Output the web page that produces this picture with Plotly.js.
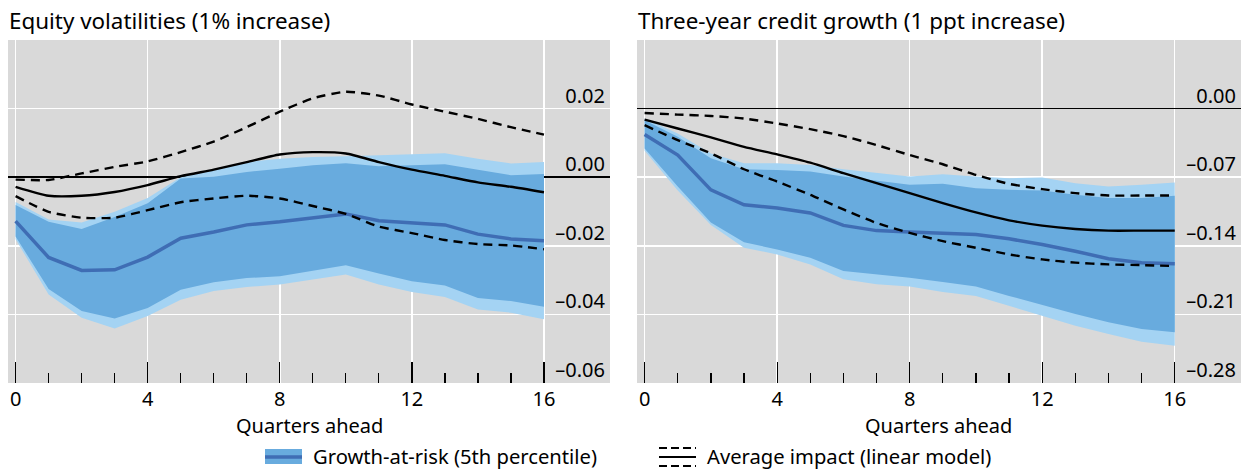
<!DOCTYPE html>
<html>
<head>
<meta charset="utf-8">
<script src="https://cdn.plot.ly/plotly-3.0.1.min.js"></script>
<style>
  html, body { margin: 0; padding: 0; background: #fff; }
  #chart { width: 1243px; height: 471px; }
</style>
</head>
<body>
<div id="chart"></div>
<script>
// ---------- data ----------
const quarters = [0,1,2,3,4,5,6,7,8,9,10,11,12,13,14,15,16];

// Left panel: Equity volatilities (1% increase)
const eqOuterHi = [-0.0072,-0.0123,-0.0132,-0.0101,-0.0061,0.0000,0.0020,0.0044,0.0054,0.0059,0.0061,0.0064,0.0067,0.0070,0.0054,0.0040,0.0044];
const eqInnerHi = [-0.0081,-0.0130,-0.0151,-0.0116,-0.0076,-0.0004,0.0001,0.0015,0.0025,0.0035,0.0041,0.0032,0.0035,0.0038,0.0022,0.0006,0.0009];
const eqMedian  = [-0.0128,-0.0234,-0.0272,-0.0270,-0.0233,-0.0178,-0.0160,-0.0139,-0.0130,-0.0119,-0.0107,-0.0127,-0.0134,-0.0139,-0.0166,-0.0180,-0.0185];
const eqInnerLo = [-0.0173,-0.0326,-0.0390,-0.0412,-0.0381,-0.0328,-0.0306,-0.0294,-0.0289,-0.0273,-0.0257,-0.0281,-0.0303,-0.0316,-0.0352,-0.0361,-0.0378];
const eqOuterLo = [-0.0181,-0.0342,-0.0410,-0.0441,-0.0405,-0.0357,-0.0332,-0.0320,-0.0313,-0.0299,-0.0284,-0.0313,-0.0335,-0.0349,-0.0386,-0.0395,-0.0414];
const eqAvg     = [-0.0028,-0.0054,-0.0054,-0.0043,-0.0023,0.0003,0.0022,0.0044,0.0066,0.0073,0.0069,0.0044,0.0022,0.0004,-0.0015,-0.0028,-0.0044];
const eqAvgHi   = [-0.0007,-0.0008,0.0011,0.0030,0.0046,0.0073,0.0104,0.0146,0.0191,0.0230,0.0249,0.0238,0.0212,0.0191,0.0170,0.0146,0.0124];
const eqAvgLo   = [-0.0055,-0.0101,-0.0118,-0.0118,-0.0096,-0.0073,-0.0062,-0.0054,-0.0062,-0.0084,-0.0107,-0.0144,-0.0163,-0.0183,-0.0195,-0.0199,-0.0210];

// Right panel: Three-year credit growth (1 ppt increase)
const crOuterHi = [-0.0101,-0.0254,-0.0457,-0.0558,-0.0558,-0.0575,-0.0619,-0.0659,-0.0694,-0.0670,-0.0694,-0.0710,-0.0704,-0.0761,-0.0795,-0.0778,-0.0755];
const crInnerHi = [-0.0119,-0.0288,-0.0507,-0.0619,-0.0626,-0.0643,-0.0694,-0.0734,-0.0778,-0.0768,-0.0812,-0.0829,-0.0836,-0.0880,-0.0913,-0.0913,-0.0890];
const crMedian  = [-0.0264,-0.0474,-0.0829,-0.0981,-0.1015,-0.1065,-0.1192,-0.1245,-0.1258,-0.1268,-0.1285,-0.1329,-0.1387,-0.1455,-0.1532,-0.1573,-0.1583];
const crInnerLo = [-0.0406,-0.0795,-0.1161,-0.1363,-0.1438,-0.1522,-0.1658,-0.1691,-0.1725,-0.1769,-0.1816,-0.1911,-0.2006,-0.2097,-0.2181,-0.2249,-0.2283];
const crOuterLo = [-0.0430,-0.0836,-0.1189,-0.1420,-0.1488,-0.1590,-0.1742,-0.1793,-0.1816,-0.1871,-0.1911,-0.2013,-0.2120,-0.2216,-0.2300,-0.2378,-0.2419];
const crAvg     = [-0.0112,-0.0203,-0.0294,-0.0390,-0.0467,-0.0552,-0.0659,-0.0761,-0.0862,-0.0964,-0.1059,-0.1140,-0.1194,-0.1228,-0.1245,-0.1245,-0.1245];
const crAvgHi   = [-0.0045,-0.0061,-0.0075,-0.0101,-0.0152,-0.0210,-0.0281,-0.0372,-0.0474,-0.0568,-0.0677,-0.0768,-0.0822,-0.0862,-0.0887,-0.0887,-0.0887];
const crAvgLo   = [-0.0169,-0.0322,-0.0457,-0.0619,-0.0745,-0.0880,-0.1029,-0.1167,-0.1268,-0.1353,-0.1420,-0.1488,-0.1539,-0.1572,-0.1590,-0.1597,-0.1607];

// Tick labels
const xMajorTicks = [0,4,8,12,16];
const xMinorTicks = [1,2,3,5,6,7,9,10,11,13,14,15];
const eqYTicks = [-0.06,-0.04,-0.02,0,0.02];
const eqYText  = ['\u20130.06','\u20130.04','\u20130.02','0.00','0.02'];
const crYTicks = [-0.28,-0.21,-0.14,-0.07,0];
const crYText  = ['\u20130.28','\u20130.21','\u20130.14','\u20130.07','0.00'];

const panelTitles = ['Equity volatilities (1% increase)', 'Three-year credit growth (1 ppt increase)'];
const xTitle = 'Quarters ahead';
const legendLabels = ['Growth-at-risk (5th percentile)', 'Average impact (linear model)'];

// ---------- styles ----------
const LIGHT = '#A4D3F3';
const MID = '#68ABDE';
const DARK = '#3F6DB4';
const FONT = 'Noto Sans, Open Sans, sans-serif';
const DASH = '9px,6px';
const TXT = 20;

function panelTraces(xa, ya, oh, ih, med, il, ol, avg, ahi, alo) {
  const base = {x: quarters, xaxis: xa, yaxis: ya, showlegend: false, hoverinfo: 'skip'};
  return [
    Object.assign({}, base, {y: ol, mode: 'lines', line: {width: 0, color: LIGHT}}),
    Object.assign({}, base, {y: oh, mode: 'lines', line: {width: 0, color: LIGHT}, fill: 'tonexty', fillcolor: LIGHT}),
    Object.assign({}, base, {y: il, mode: 'lines', line: {width: 0, color: MID}}),
    Object.assign({}, base, {y: ih, mode: 'lines', line: {width: 0, color: MID}, fill: 'tonexty', fillcolor: MID}),
    Object.assign({}, base, {y: med, mode: 'lines', line: {width: 3.5, color: DARK}}),
    Object.assign({}, base, {y: avg, mode: 'lines', line: {width: 2.4, color: '#000', shape: 'spline', smoothing: 0.6}}),
    Object.assign({}, base, {y: ahi, mode: 'lines', line: {width: 2.4, color: '#000', dash: DASH, shape: 'spline', smoothing: 0.6}}),
    Object.assign({}, base, {y: alo, mode: 'lines', line: {width: 2.4, color: '#000', dash: DASH, shape: 'spline', smoothing: 0.6}})
  ];
}

const data = [].concat(
  panelTraces('x', 'y', eqOuterHi, eqInnerHi, eqMedian, eqInnerLo, eqOuterLo, eqAvg, eqAvgHi, eqAvgLo),
  panelTraces('x2', 'y2', crOuterHi, crInnerHi, crMedian, crInnerLo, crOuterLo, crAvg, crAvgHi, crAvgLo)
);

const W = 1243, PT = 40, PB = 383, PH = PB - PT;
const px = v => v / W;
const py = v => (PB - v) / PH;

function xAxis(domain, anchor) {
  return {
    domain: domain, anchor: anchor,
    range: [-0.23, 18.0],
    tickmode: 'array', tickvals: xMajorTicks,
    ticks: 'inside', ticklen: 21, tickwidth: 1.3, tickcolor: '#000',
    minor: {tickmode: 'array', tickvals: xMinorTicks, ticks: 'inside', ticklen: 10, tickwidth: 1.3, tickcolor: '#000', showgrid: false},
    showgrid: true, gridcolor: '#fff', gridwidth: 1.5,
    zeroline: false, showline: false,
    ticklabelstandoff: 2,
    tickfont: {family: FONT, size: TXT, color: '#000'},
    fixedrange: true
  };
}
function yAxis(anchor, range, vals, text) {
  return {
    anchor: anchor, side: 'right', range: range,
    tickmode: 'array', tickvals: vals, ticktext: text,
    ticklabelposition: 'inside', ticklabeloverflow: 'allow', ticklabelshift: -13, ticklabelstandoff: 2,
    ticks: '',
    showgrid: true, gridcolor: '#fff', gridwidth: 1.5,
    zeroline: true, zerolinecolor: '#000', zerolinewidth: 1.6,
    showline: false,
    tickfont: {family: FONT, size: TXT, color: '#000'},
    fixedrange: true
  };
}

const legendShapes = [
  {type: 'rect', xref: 'paper', yref: 'paper', x0: px(265), x1: px(302), y0: py(449), y1: py(464), fillcolor: MID, line: {width: 0}},
  {type: 'line', xref: 'paper', yref: 'paper', x0: px(265), x1: px(302), y0: py(457), y1: py(457), line: {color: DARK, width: 3.5}},
  {type: 'line', xref: 'paper', yref: 'paper', x0: px(659), x1: px(696), y0: py(448), y1: py(448), line: {color: '#000', width: 2, dash: '8px,4px'}},
  {type: 'line', xref: 'paper', yref: 'paper', x0: px(659), x1: px(696), y0: py(457), y1: py(457), line: {color: '#000', width: 2}},
  {type: 'line', xref: 'paper', yref: 'paper', x0: px(659), x1: px(696), y0: py(466), y1: py(466), line: {color: '#000', width: 2, dash: '8px,4px'}}
];

const annotations = [
  {xref: 'paper', yref: 'paper', x: px(7), y: py(20), xanchor: 'left', yanchor: 'middle', showarrow: false,
   text: panelTitles[0], font: {family: FONT, size: 22.4, color: '#000'}},
  {xref: 'paper', yref: 'paper', x: px(636), y: py(20), xanchor: 'left', yanchor: 'middle', showarrow: false,
   text: panelTitles[1], font: {family: FONT, size: 22.4, color: '#000'}},
  {xref: 'paper', yref: 'paper', x: px(309), y: py(425.5), xanchor: 'center', yanchor: 'middle', showarrow: false,
   text: xTitle, font: {family: FONT, size: TXT, color: '#000'}},
  {xref: 'paper', yref: 'paper', x: px(939), y: py(425.5), xanchor: 'center', yanchor: 'middle', showarrow: false,
   text: xTitle, font: {family: FONT, size: TXT, color: '#000'}},
  {xref: 'paper', yref: 'paper', x: px(311), y: py(456.5), xanchor: 'left', yanchor: 'middle', showarrow: false,
   text: legendLabels[0], font: {family: FONT, size: 20.2, color: '#000'}},
  {xref: 'paper', yref: 'paper', x: px(705), y: py(456.5), xanchor: 'left', yanchor: 'middle', showarrow: false,
   text: legendLabels[1], font: {family: FONT, size: 20.2, color: '#000'}}
];

const layout = {
  width: 1243, height: 471,
  margin: {l: 0, r: 0, t: PT, b: 471 - PB, pad: 0},
  paper_bgcolor: '#fff', plot_bgcolor: '#D9D9D9',
  showlegend: false,
  font: {family: FONT, color: '#000'},
  xaxis: xAxis([px(8), px(610)], 'y'),
  yaxis: yAxis('x', [-0.06, 0.04], eqYTicks, eqYText),
  xaxis2: xAxis([px(637), px(1241)], 'y2'),
  yaxis2: yAxis('x2', [-0.28, 0.07], crYTicks, crYText),
  shapes: legendShapes,
  annotations: annotations
};

Plotly.newPlot('chart', data, layout, {displayModeBar: false, staticPlot: true});
</script>
</body>
</html>
